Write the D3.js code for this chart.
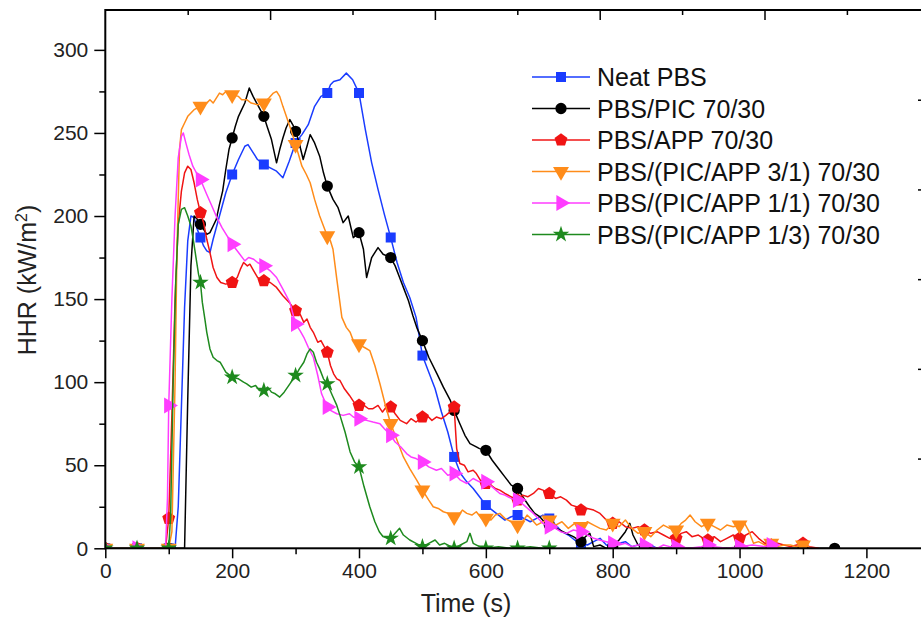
<!DOCTYPE html>
<html>
<head>
<meta charset="utf-8">
<script src="https://cdn.jsdelivr.net/npm/d3@7"></script>
<style>
  body { margin: 0; background: #fff; }
  svg { display: block; font-family: "Liberation Sans", Arial, sans-serif; }
  .axis path, .axis line { stroke: #000; }
  .axis text { fill: #222; font-size: 21px; }
</style>
</head>
<body>
<div id="container"></div>
<script>
// HHR curves, [time (s), HHR (kW/m2)]
const neatPBS = [[0,0],[50,0],[100,0],[110,0],[115,25],[120,85],[125,145],[130,185],[135,200],[140,199],[145,192],[150,187],[155,182],[160,179],[165,178],[170,186],[180,200],[190,214],[200,225],[210,234],[220,242],[225,243],[230,240],[240,234],[250,231],[260,229],[270,227],[280,223],[290,233],[300,244],[310,249],[320,255],[330,266],[340,272],[350,274],[355,279],[360,281],[370,282],[380,286],[390,282],[400,274],[410,252],[420,232],[430,216],[440,201],[450,187],[460,172],[470,160],[480,151],[490,139],[500,116],[510,106],[520,96],[530,82],[540,70],[550,55],[560,45],[570,40],[580,36],[590,31],[600,26],[610,23],[620,20],[630,17],[640,19],[650,20],[660,18],[670,16],[680,18],[690,20],[700,18],[710,14],[720,10],[730,8],[740,5],[750,3],[760,2],[770,4],[780,6],[790,2],[800,1],[810,3],[820,4],[830,1],[840,2],[850,0],[860,2],[870,0]];

const pbsPIC = [[0,0],[50,0],[100,0],[125,0],[130,90],[135,170],[140,200],[145,198],[150,195],[155,192],[160,189],[165,190],[170,194],[175,198],[180,207],[185,215],[190,228],[195,240],[200,247],[205,254],[210,260],[215,264],[220,268],[227,277],[233,272],[240,267],[250,260],[255,254],[262,246],[270,232],[275,240],[280,247],[285,253],[291,258],[297,254],[300,251],[305,245],[312,234],[318,242],[323,249],[330,244],[338,236],[344,226],[350,218],[359,210],[367,205],[375,196],[383,200],[391,187],[400,190],[407,180],[412,163],[420,175],[430,181],[438,177],[450,175],[457,170],[464,163],[471,156],[478,149],[485,140],[491,133],[500,125],[510,115],[523,105],[533,97],[544,89],[550,83],[559,75],[567,68],[575,63],[585,61],[590,60],[600,59],[610,53],[622,47],[630,43],[640,38],[650,36],[660,30],[669,25],[677,21],[685,19],[692,16],[700,14],[716,11],[727,9],[738,7],[750,4],[757,7],[764,9],[770,1],[780,2],[790,0],[800,1],[810,5],[820,10],[827,15],[832,8],[840,2],[850,1],[870,0],[900,0],[950,0],[1000,0],[1050,0],[1100,0],[1150,0]];

const pbsAPP = [[0,0],[50,0],[95,0],[100,18],[105,80],[110,150],[115,195],[120,215],[125,226],[130,230],[135,228],[140,220],[145,210],[150,202],[155,196],[160,186],[165,178],[170,169],[176,163],[182,160],[190,159],[200,160],[208,163],[213,168],[218,172],[224,170],[228,171],[234,167],[240,163],[250,161],[260,160],[270,157],[280,152],[290,148],[300,143],[307,141],[313,136],[318,138],[323,133],[328,130],[335,124],[340,125],[350,118],[355,110],[360,105],[365,102],[370,101],[377,96],[385,92],[392,88],[400,86],[408,86],[415,84],[422,84],[430,86],[437,82],[443,85],[450,85],[457,81],[465,77],[475,75],[482,78],[490,76],[500,79],[507,80],[515,77],[522,79],[530,78],[537,80],[543,82],[550,85],[554,60],[559,51],[566,50],[572,46],[580,47],[585,45],[593,40],[600,39],[608,38],[615,36],[622,35],[630,33],[640,31],[650,29],[658,32],[666,31],[675,33],[683,36],[690,35],[700,33],[710,30],[718,31],[727,29],[735,26],[743,25],[750,23],[760,24],[770,23],[780,21],[790,17],[800,15],[810,16],[820,13],[830,12],[840,13],[850,11],[860,9],[870,10],[880,8],[890,6],[900,6],[908,9],[916,10],[925,7],[935,8],[943,6],[950,5],[960,7],[970,4],[980,6],[990,8],[1000,6],[1010,8],[1020,10],[1030,6],[1040,3],[1050,2],[1060,3],[1070,2],[1080,1],[1090,2],[1100,3],[1110,1],[1125,0]];

const pbsMix31 = [[0,0],[50,0],[100,0],[105,10],[110,100],[113,180],[117,240],[120,252],[125,256],[130,260],[135,262],[140,264],[145,265],[150,266],[155,267],[160,268],[165,270],[170,268],[175,271],[180,274],[185,273],[190,275],[195,274],[200,273],[210,272],[215,270],[223,270],[230,268],[240,267],[250,268],[258,271],[265,274],[270,275],[275,272],[280,266],[290,255],[300,243],[310,230],[317,225],[323,220],[330,210],[338,200],[345,193],[350,188],[355,185],[359,180],[365,162],[373,139],[380,133],[386,130],[391,125],[400,123],[408,121],[417,119],[425,110],[433,99],[441,87],[450,75],[460,65],[470,55],[480,48],[491,41],[500,35],[510,29],[517,25],[525,24],[533,22],[541,21],[550,19],[557,20],[563,23],[570,21],[578,20],[585,22],[593,18],[600,18],[608,17],[615,20],[622,21],[630,18],[640,16],[650,14],[658,16],[665,20],[673,17],[680,14],[690,16],[700,17],[710,14],[720,16],[730,12],[740,15],[750,13],[760,16],[770,14],[780,12],[790,11],[800,15],[810,13],[820,17],[830,12],[840,9],[850,10],[860,7],[870,11],[880,14],[890,12],[900,11],[908,15],[915,17],[922,20],[930,16],[940,13],[950,15],[960,13],[970,11],[980,14],[990,13],[1000,14],[1008,15],[1015,10],[1022,3],[1030,4],[1040,2],[1050,3],[1060,1],[1070,2],[1080,2],[1090,1],[1100,2],[1110,1]];

const pbsMix11 = [[0,0],[50,0],[95,0],[98,30],[100,86],[105,150],[110,200],[115,235],[120,248],[123,250],[127,244],[132,237],[138,230],[145,225],[150,222],[160,213],[168,206],[176,199],[184,193],[192,188],[200,183],[210,178],[220,173],[226,175],[234,174],[240,172],[250,170],[260,167],[270,163],[280,156],[291,148],[300,135],[307,131],[313,127],[320,121],[328,115],[335,104],[341,93],[350,85],[355,83],[365,81],[375,80],[385,81],[391,79],[400,78],[412,77],[422,76],[433,75],[440,72],[450,68],[457,64],[466,61],[475,57],[482,55],[490,54],[500,52],[510,49],[522,47],[530,48],[540,44],[550,45],[560,41],[570,39],[580,42],[590,40],[600,40],[610,37],[622,33],[630,32],[640,30],[650,29],[660,26],[669,23],[675,21],[685,17],[690,15],[700,13],[710,12],[718,10],[727,9],[738,11],[750,10],[760,8],[770,6],[779,5],[790,4],[800,3],[810,2],[820,3],[830,1],[840,2],[850,2],[860,1],[870,0],[880,2],[890,1],[900,1],[920,0],[940,1],[950,2],[960,1],[980,0],[1000,1],[1020,2],[1040,1],[1050,2],[1060,0]];

const pbsMix13 = [[0,0],[50,0],[100,0],[103,20],[107,100],[111,160],[115,195],[120,204],[125,205],[130,200],[135,194],[139,185],[143,175],[147,165],[150,160],[153,148],[157,138],[160,130],[165,120],[170,115],[176,113],[181,112],[190,106],[200,103],[210,102],[218,100],[223,99],[230,97],[237,98],[243,95],[250,95],[256,97],[262,94],[268,93],[275,91],[282,94],[291,99],[300,104],[306,108],[313,112],[318,117],[323,120],[328,118],[333,112],[338,108],[344,102],[350,99],[358,92],[365,86],[370,80],[378,70],[386,58],[393,52],[400,49],[408,37],[417,25],[425,16],[432,10],[438,7],[445,6],[450,6],[457,9],[464,12],[470,8],[480,5],[490,3],[500,1],[510,3],[520,5],[527,2],[535,3],[545,1],[550,0],[560,2],[570,4],[575,9],[580,3],[590,1],[600,0],[620,1],[640,0],[650,0],[670,1],[690,0],[700,0],[710,0]];

const seriesNames = ["Neat PBS", "PBS/PIC 70/30", "PBS/APP 70/30", "PBS/(PIC/APP 3/1) 70/30", "PBS/(PIC/APP 1/1) 70/30", "PBS/(PIC/APP 1/3) 70/30"];
const seriesData = [neatPBS, pbsPIC, pbsAPP, pbsMix31, pbsMix11, pbsMix13];
const seriesColors = ["#1a3cff", "#000000", "#f01414", "#ff8c1a", "#ff3cff", "#1e8a1e"];

const xTicks = [0, 200, 400, 600, 800, 1000, 1200];
const yTicks = [0, 50, 100, 150, 200, 250, 300];

// pentagon marker
const symbolPentagon = {
    draw(context, size) {
        const r = Math.sqrt(size / 2.378);
        for (let i = 0; i < 5; i++) {
            const a = -Math.PI / 2 + i * 2 * Math.PI / 5;
            if (i === 0) context.moveTo(r * Math.cos(a), r * Math.sin(a));
            else context.lineTo(r * Math.cos(a), r * Math.sin(a));
        }
        context.closePath();
    }
};
const markers = [
    { type: d3.symbolSquare, size: 100, rotate: 0 },
    { type: d3.symbolCircle, size: 100, rotate: 0 },
    { type: symbolPentagon, size: 110, rotate: 0 },
    { type: d3.symbolTriangle, size: 110, rotate: 180 },
    { type: d3.symbolTriangle, size: 110, rotate: 90 },
    { type: d3.symbolStar, size: 85, rotate: 0 }
];

const width = 921, height = 617;
const plotLeft = 105.3, plotTop = 10, plotBottom = 548.3, plotRight = 926;

const svg = d3.select("#container").append("svg")
    .attr("width", width)
    .attr("height", height);

const x = d3.scaleLinear().domain([0, 1200]).range([plotLeft, 866.4]);
const y = d3.scaleLinear().domain([0, 324]).range([plotBottom, plotTop]);
// Origin's unlinked top / right axes
const xTop = d3.scaleLinear().domain([0, 500]).range([plotLeft, plotLeft + 824]);
const yRight = d3.scaleLinear().domain([0, 600]).range([plotBottom, plotTop]);

svg.append("defs").append("clipPath")
    .attr("id", "plotclip")
  .append("rect")
    .attr("x", plotLeft)
    .attr("y", plotTop)
    .attr("width", plotRight - plotLeft)
    .attr("height", plotBottom - plotTop);

// curves
const line = d3.line().x(d => x(d[0])).y(d => y(d[1]));
const plot = svg.append("g").attr("clip-path", "url(#plotclip)");

seriesData.forEach((data, i) => {
    const g = plot.append("g");
    g.append("path")
        .datum(data)
        .attr("fill", "none")
        .attr("stroke", seriesColors[i])
        .attr("stroke-width", 1.5)
        .attr("stroke-linejoin", "round")
        .attr("d", line);
    g.selectAll("path.mk")
        .data(data.filter(d => d[0] % 50 === 0))
      .enter().append("path")
        .attr("class", "mk")
        .attr("d", d3.symbol().type(markers[i].type).size(markers[i].size))
        .attr("fill", seriesColors[i])
        .attr("transform", d => `translate(${x(d[0])},${y(d[1])}) rotate(${markers[i].rotate})`);
});

// bottom axis
svg.append("g")
    .attr("class", "axis")
    .attr("transform", `translate(0,${plotBottom})`)
    .call(d3.axisBottom(x).tickValues(xTicks).tickFormat(d3.format("d")).tickSize(10).tickPadding(5).tickSizeOuter(0))
    .call(g => g.select(".domain").remove());
svg.append("g")
    .attr("class", "axis")
    .attr("transform", `translate(0,${plotBottom})`)
    .call(d3.axisBottom(x).tickValues(d3.range(100, 1300, 200)).tickSize(6).tickFormat(""))
    .call(g => g.select(".domain").remove());

// left axis
svg.append("g")
    .attr("class", "axis")
    .attr("transform", `translate(${plotLeft},0)`)
    .call(d3.axisLeft(y).tickValues(yTicks).tickSize(11).tickPadding(6))
    .call(g => g.select(".domain").remove());
svg.append("g")
    .attr("class", "axis")
    .attr("transform", `translate(${plotLeft},0)`)
    .call(d3.axisLeft(y).tickValues(d3.range(25, 325, 50)).tickSize(6).tickFormat(""))
    .call(g => g.select(".domain").remove());

// top axis, ticks inward
svg.append("g")
    .attr("class", "axis")
    .attr("transform", `translate(0,${plotTop})`)
    .call(d3.axisBottom(xTop).tickValues(d3.range(100, 600, 100)).tickSize(10).tickFormat(""))
    .call(g => g.select(".domain").remove());
svg.append("g")
    .attr("class", "axis")
    .attr("transform", `translate(0,${plotTop})`)
    .call(d3.axisBottom(xTop).tickValues(d3.range(50, 550, 100)).tickSize(5).tickFormat(""))
    .call(g => g.select(".domain").remove());

// right axis (just off the picture), ticks inward
svg.append("g")
    .attr("class", "axis")
    .attr("transform", `translate(${plotRight},0)`)
    .call(d3.axisLeft(yRight).tickValues(d3.range(100, 600, 100)).tickSize(8).tickFormat(""))
    .call(g => g.select(".domain").remove());

svg.selectAll(".axis line").attr("stroke-width", 1.5);

// frame
svg.append("rect")
    .attr("x", plotLeft)
    .attr("y", plotTop)
    .attr("width", plotRight - plotLeft)
    .attr("height", plotBottom - plotTop)
    .attr("fill", "none")
    .attr("stroke", "#000")
    .attr("stroke-width", 2);

// axis titles
svg.append("text")
    .attr("x", 466)
    .attr("y", 612)
    .attr("text-anchor", "middle")
    .attr("font-size", 25)
    .attr("fill", "#222")
    .text("Time (s)");

const yTitle = svg.append("text")
    .attr("transform", "translate(36,280) rotate(-90)")
    .attr("text-anchor", "middle")
    .attr("font-size", 25)
    .attr("fill", "#222");
yTitle.append("tspan").text("HHR (kW/m");
yTitle.append("tspan").attr("dy", -9).attr("font-size", 16).text("2");
yTitle.append("tspan").attr("dy", 9).text(")");

// legend
const legend = svg.append("g").attr("transform", "translate(532,77)");
seriesNames.forEach((name, i) => {
    const row = legend.append("g").attr("transform", `translate(0,${i * 31.5})`);
    row.append("line")
        .attr("x1", 0).attr("x2", 58)
        .attr("stroke", seriesColors[i])
        .attr("stroke-width", 1.5);
    row.append("path")
        .attr("d", d3.symbol().type(markers[i].type).size(markers[i].size))
        .attr("fill", seriesColors[i])
        .attr("transform", `translate(29,0) rotate(${markers[i].rotate})`);
    row.append("text")
        .attr("x", 65)
        .attr("dy", "0.36em")
        .attr("font-size", 25)
        .attr("fill", "#111")
        .text(name);
});
</script>
</body>
</html>
